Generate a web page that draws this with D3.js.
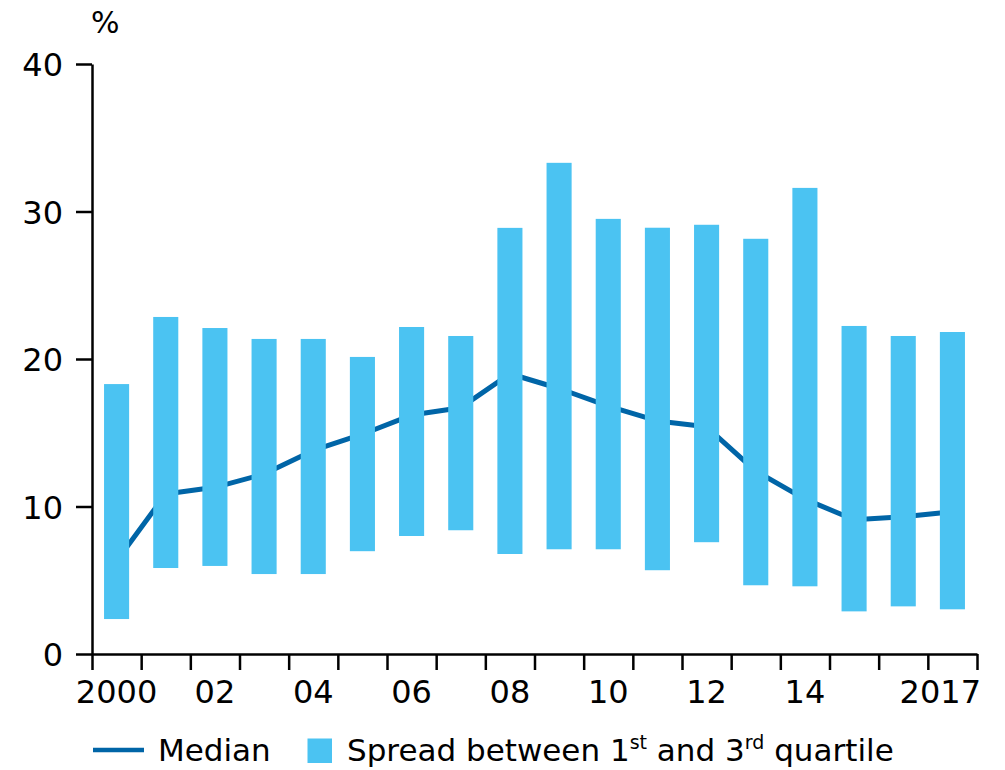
<!DOCTYPE html>
<html>
<head>
<meta charset="utf-8">
<script src="https://cdn.jsdelivr.net/npm/d3@7"></script>
<style>
  html, body { margin: 0; padding: 0; background: #ffffff; }
  svg { display: block; }
  text { font-family: "DejaVu Sans", sans-serif; fill: #000; }
</style>
</head>
<body>
<script>
const years = [2000,2001,2002,2003,2004,2005,2006,2007,2008,2009,2010,2011,2012,2013,2014,2015,2016,2017];
const medianValues = [6.3,10.85,11.3,12.2,13.8,14.9,16.2,16.7,19.0,18.0,16.8,15.8,15.4,12.4,10.5,9.1,9.3,9.65];
const q1Values = [2.37,5.83,5.97,5.42,5.42,6.97,8.0,8.39,6.78,7.1,7.1,5.68,7.58,4.66,4.59,2.89,3.23,3.03];
const q3Values = [18.3,22.85,22.1,21.36,21.36,20.14,22.17,21.56,28.89,33.3,29.5,28.9,29.1,28.15,31.6,22.24,21.56,21.83];
const yTicks = [0,10,20,30,40];
const xLabelYears = [2000,2002,2004,2006,2008,2010,2012,2014,2017];
const xLabelText = {2000:"2000",2002:"02",2004:"04",2006:"06",2008:"08",2010:"10",2012:"12",2014:"14",2017:"2017"};
const unitLabel = "%";
const legendMedian = "Median";

const W = 1005, H = 770;
const svg = d3.select("body").append("svg").attr("width", W).attr("height", H);

const x = d3.scaleBand().domain(years).range([92, 977]).padding(0);
const xb = d3.scaleLinear().domain([0, years.length]).range([92, 977]);
const y = d3.scaleLinear().domain([0, 40]).range([654, 64]);

const barColor = "#4bc3f2";
const lineColor = "#0065a7";
const bw = x.bandwidth();
const barFrac = 0.51;

// median line (under bars)
const line = d3.line()
  .x((d, i) => x(years[i]) + bw / 2)
  .y(d => y(d))
  .curve(d3.curveLinear);
svg.append("path")
  .datum(medianValues)
  .attr("d", line)
  .attr("fill", "none")
  .attr("stroke", lineColor)
  .attr("stroke-width", 5)
  .attr("stroke-linejoin", "round");

// bars
svg.append("g").selectAll("rect")
  .data(years)
  .join("rect")
  .attr("x", (d) => x(d) + bw * (1 - barFrac) / 2)
  .attr("width", bw * barFrac)
  .attr("y", (d, i) => y(q3Values[i]))
  .attr("height", (d, i) => y(q1Values[i]) - y(q3Values[i]))
  .attr("fill", barColor);

// y axis
const yAxis = svg.append("g")
  .attr("transform", "translate(92,0)")
  .call(d3.axisLeft(y).tickValues(yTicks).tickSize(16).tickSizeOuter(0).tickFormat(d3.format("d")).tickPadding(13));
yAxis.select(".domain").attr("stroke", "#000").attr("stroke-width", 2.5);
yAxis.selectAll(".tick line").attr("stroke", "#000").attr("stroke-width", 2.5);
yAxis.selectAll(".tick text").attr("font-size", 32).attr("font-family", "DejaVu Sans").attr("dy", "0.36em");

// x axis
const xAxis = svg.append("g")
  .attr("transform", `translate(0,${y(0)})`)
  .call(d3.axisBottom(xb).tickValues(d3.range(0, years.length + 1)).tickSize(16).tickSizeOuter(0).tickFormat(""));
xAxis.select(".domain").attr("stroke", "#000").attr("stroke-width", 2.5);
xAxis.selectAll(".tick line").attr("stroke", "#000").attr("stroke-width", 2.5);

// x labels
svg.append("g").selectAll("text")
  .data(xLabelYears)
  .join("text")
  .attr("x", d => d === 2017 ? 981 : x(d) + bw / 2)
  .attr("y", 703)
  .attr("text-anchor", d => d === 2017 ? "end" : "middle")
  .attr("font-size", 32)
  .text(d => xLabelText[d]);

// unit label
svg.append("text")
  .attr("x", 91).attr("y", 33)
  .attr("font-size", 30)
  .text(unitLabel);

// legend
const lg = svg.append("g");
lg.append("line")
  .attr("x1", 93).attr("x2", 144).attr("y1", 750).attr("y2", 750)
  .attr("stroke", lineColor).attr("stroke-width", 4.5);
lg.append("text").attr("x", 158).attr("y", 761).attr("font-size", 31).text(legendMedian);
lg.append("rect").attr("x", 307.5).attr("y", 738.5).attr("width", 24.5).attr("height", 24.5).attr("fill", barColor);
const t = lg.append("text").attr("x", 347).attr("y", 761).attr("font-size", 31);
t.append("tspan").text("Spread between 1");
t.append("tspan").attr("font-size", 19).attr("dy", -12).text("st");
t.append("tspan").attr("dy", 12).text(" and 3");
t.append("tspan").attr("font-size", 19).attr("dy", -12).text("rd");
t.append("tspan").attr("dy", 12).text(" quartile");
</script>
</body>
</html>
